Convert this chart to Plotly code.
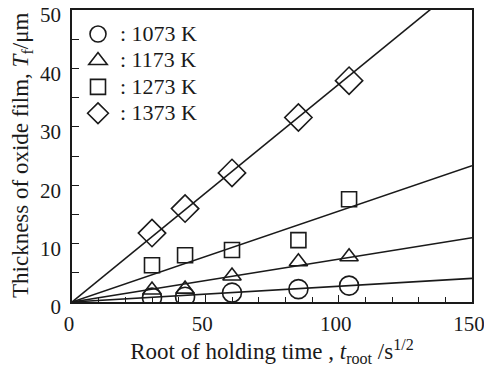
import plotly.graph_objects as go

# Data
x_root = [30.0, 42.4, 60.0, 84.9, 103.9]
labels = [": 1073 K", ": 1173 K", ": 1273 K", ": 1373 K"]
y_1073 = [0.75, 0.9, 1.6, 2.2, 2.8]
y_1173 = [2.05, 2.2, 4.45, 6.9, 7.75]
y_1273 = [6.3, 8.0, 8.9, 10.6, 17.6]
y_1373 = [11.8, 16.0, 22.1, 31.6, 37.9]
# fitted line value at x = 150 (lines pass through origin)
fit_end_x = [0, 150]
fit_end_y = [4.05, 11.0, 23.35, 55.9]

series = [y_1073, y_1173, y_1273, y_1373]
symbols = ["circle-open", "triangle-up-open", "square-open", "diamond-open"]
sizes = [19, 16, 15, 21]
ink = "#1a1a1a"
font = "Liberation Serif"

fig = go.Figure()
for ye in fit_end_y:
    fig.add_trace(go.Scatter(x=fit_end_x, y=[0, ye], mode="lines",
                             line=dict(color=ink, width=1.6),
                             showlegend=False, hoverinfo="skip"))
for ys, lab, sym, sz in zip(series, labels, symbols, sizes):
    fig.add_trace(go.Scatter(x=x_root, y=ys, mode="markers",
                             name=f'<span style="font-size:22px">{lab}</span>',
                             marker=dict(symbol=sym, size=sz, color=ink,
                                         line=dict(color=ink, width=1.6))))

axis_common = dict(showgrid=False, zeroline=False, showline=True, linecolor=ink,
                   linewidth=1.6, mirror=True, ticks="inside", tickcolor=ink,
                   ticklen=7, tickwidth=1.3, automargin=False, ticklabeloverflow="allow",
                   tickfont=dict(family=font, size=21, color=ink))

fig.update_xaxes(range=[0, 150], tickvals=[0, 50, 100, 150],
                 ticklabelstandoff=2, ticklabelshift=-3,
                 minor=dict(dtick=10, ticks="inside", ticklen=5, tickcolor=ink, tickwidth=1.3),
                 title=dict(text="Root of holding time , <i>t</i><sub>root</sub> /s<sup>1/2</sup>",
                            font=dict(family=font, size=23, color=ink), standoff=5),
                 **axis_common)
fig.update_yaxes(range=[0, 50], tickvals=[0, 10, 20, 30, 40, 50],
                 ticklabelstandoff=5, ticklabelshift=5,
                 minor=dict(dtick=5, ticks="inside", ticklen=7, tickcolor=ink, tickwidth=1.3),
                 **axis_common)

fig.add_annotation(text="Thickness of oxide film, <i>T</i><sub>f</sub>/μm",
                   xref="paper", yref="paper", x=0, y=0.5, xanchor="center", yanchor="middle",
                   xshift=-50, textangle=-90, showarrow=False,
                   font=dict(family=font, size=23, color=ink))

fig.update_layout(
    width=484, height=367,
    margin=dict(l=72, r=12, t=10, b=65),
    paper_bgcolor="white", plot_bgcolor="white",
    legend=dict(x=0.01, y=0.98, xanchor="left", yanchor="top",
                font=dict(family=font, size=18, color=ink), itemwidth=34,
                bgcolor="rgba(0,0,0,0)", tracegroupgap=0, itemsizing="trace"),
)

# remove the browser's default 8 px body margin so the figure sits at the page corner
fig.write_html("out.html", config={"displayModeBar": False},
               post_script="document.body.style.margin='0';")
